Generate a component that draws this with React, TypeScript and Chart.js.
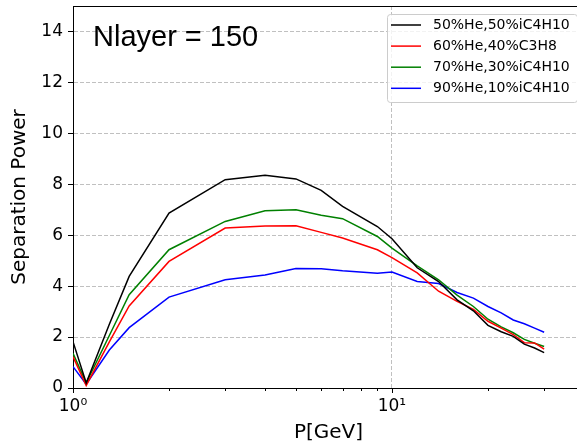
import React, { useEffect, useRef } from 'react';
import { Chart, registerables } from 'chart.js';

Chart.register(...registerables);

// ---- data ----
const pValues = [1, 1.1, 1.3, 1.5, 2, 3, 4, 5, 6, 7, 9, 10, 12, 14, 16, 18, 20, 22, 24, 26, 28, 30];
const sepHe50iC4H10 = [1.82, 0.2, 2.5, 4.38, 6.87, 8.18, 8.35, 8.21, 7.76, 7.13, 6.34, 5.86, 4.72, 4.18, 3.46, 3.03, 2.46, 2.21, 2.03, 1.72, 1.57, 1.39];
const sepHe60C3H8 = [1.23, 0.1, 1.81, 3.22, 4.97, 6.28, 6.36, 6.37, 6.11, 5.89, 5.43, 5.12, 4.52, 3.8, 3.4, 3.09, 2.62, 2.35, 2.1, 1.78, 1.77, 1.53];
const sepHe70iC4H10 = [1.36, 0.2, 2.06, 3.66, 5.43, 6.54, 6.96, 7.0, 6.78, 6.65, 5.95, 5.49, 4.8, 4.25, 3.65, 3.2, 2.7, 2.4, 2.17, 1.91, 1.76, 1.63];
const sepHe90iC4H10 = [0.84, 0.15, 1.49, 2.37, 3.57, 4.25, 4.44, 4.69, 4.68, 4.6, 4.51, 4.55, 4.18, 4.1, 3.75, 3.53, 3.2, 2.95, 2.67, 2.52, 2.35, 2.19];
const seriesLabels = ['50%He,50%iC4H10', '60%He,40%C3H8', '70%He,30%iC4H10', '90%He,10%iC4H10'];
const seriesColors = ['#000000', '#ff0000', '#008000', '#0000ff'];
const yTickValues = [0, 2, 4, 6, 8, 10, 12, 14];
const xMajorTicks = [1, 10];
const xMinorTicks = [2, 3, 4, 5, 6, 7, 8, 9, 20, 30, 40];
const xTickLabels: Record<number, string> = { 1: '10\u2070', 10: '10\u00B9' };
const annotationText = 'Nlayer = 150';
const xTitle = 'P[GeV]';
const yTitle = 'Separation Power';

const FONT = 'DejaVu Sans';

export default function App() {
  const ref = useRef<HTMLCanvasElement>(null);

  useEffect(() => {
    const canvas = ref.current;
    if (!canvas) return;
    const series = [sepHe50iC4H10, sepHe60C3H8, sepHe70iC4H10, sepHe90iC4H10];
    const datasets = series.map((vals, i) => ({
      label: seriesLabels[i],
      data: pValues.map((p, j) => ({ x: p, y: vals[j] })),
      borderColor: seriesColors[i],
      backgroundColor: seriesColors[i],
      borderWidth: 1.5,
      pointRadius: 0,
      tension: 0,
      fill: false,
    }));

    const overlay = {
      id: 'overlay',
      afterDraw(chart: any) {
        const { ctx, chartArea } = chart;
        const xs = chart.scales.x;
        ctx.save();
        // top spine
        ctx.strokeStyle = '#000';
        ctx.lineWidth = 1;
        ctx.beginPath();
        ctx.moveTo(chartArea.left, chartArea.top + 0.5);
        ctx.lineTo(chartArea.right, chartArea.top + 0.5);
        ctx.stroke();
        // x tick marks
        const all = [...xMajorTicks.map((v) => [v, 5]), ...xMinorTicks.map((v) => [v, 3])];
        all.forEach(([v, len]) => {
          const px = Math.round(xs.getPixelForValue(v)) + 0.5;
          if (px < chartArea.left - 1 || px > chartArea.right + 1) return;
          ctx.beginPath();
          ctx.moveTo(px, chartArea.bottom);
          ctx.lineTo(px, chartArea.bottom + len);
          ctx.stroke();
        });
        // annotation
        ctx.fillStyle = '#000';
        ctx.font = '29px "Liberation Sans", Arial, sans-serif';
        ctx.textAlign = 'left';
        ctx.textBaseline = 'alphabetic';
        ctx.fillText(annotationText, chartArea.left + 20, chartArea.top + 40);
        // legend
        const lx = chartArea.right - 197;
        const ly = chartArea.top + 8;
        const lw = 190;
        const lh = 88;
        ctx.beginPath();
        (ctx as any).roundRect(lx + 0.5, ly + 0.5, lw, lh, 3);
        ctx.fillStyle = 'rgba(255,255,255,0.8)';
        ctx.fill();
        ctx.strokeStyle = '#cccccc';
        ctx.lineWidth = 1;
        ctx.stroke();
        ctx.font = `14px "${FONT}"`;
        ctx.textBaseline = 'middle';
        seriesLabels.forEach((lab, i) => {
          const yy = ly + 11 + i * 21.1;
          ctx.strokeStyle = seriesColors[i];
          ctx.lineWidth = 1.5;
          ctx.beginPath();
          ctx.moveTo(lx + 4, yy);
          ctx.lineTo(lx + 34, yy);
          ctx.stroke();
          ctx.fillStyle = '#000';
          ctx.fillText(lab, lx + 46, yy);
        });
        ctx.restore();
      },
    };

    const chart = new Chart(canvas, {
      type: 'line',
      data: { datasets },
      options: {
        animation: false,
        responsive: false,
        layout: { padding: { top: 6, right: 16, left: 0, bottom: 0 } },
        plugins: { legend: { display: false }, tooltip: { enabled: false } },
        scales: {
          x: {
            type: 'logarithmic',
            min: 1,
            max: 40,
            afterBuildTicks: (s: any) => {
              s.ticks = [...xMajorTicks, ...xMinorTicks]
                .sort((a, b) => a - b)
                .map((v) => ({ value: v, major: xMajorTicks.includes(v) }));
            },
            afterFit: (s: any) => {
              s.height = 58;
              s.paddingLeft = 0;
              s.paddingRight = 0;
            },
            ticks: {
              autoSkip: false,
              maxRotation: 0,
              minRotation: 0,
              padding: 8,
              color: '#000',
              font: { family: FONT, size: 17 },
              callback: (v: any) => xTickLabels[Number(v)] ?? '',
            },
            grid: {
              color: (c: any) => (c.tick && c.tick.value === 10 ? '#b0b0b0' : 'rgba(0,0,0,0)'),
              lineWidth: 0.8,
              drawTicks: false,
            },
            border: { display: true, color: '#000', width: 1, dash: [4, 2] },
            title: {
              display: true,
              text: xTitle,
              color: '#000',
              font: { family: FONT, size: 20 },
              padding: { top: 0, bottom: 1 },
            },
          },
          y: {
            type: 'linear',
            min: 0,
            max: 15,
            afterBuildTicks: (s: any) => {
              s.ticks = yTickValues.map((v) => ({ value: v }));
            },
            afterFit: (s: any) => {
              s.width = 73;
              s.paddingTop = 0;
              s.paddingBottom = 0;
            },
            ticks: {
              padding: 5,
              color: '#000',
              font: { family: FONT, size: 17 },
            },
            grid: {
              color: (c: any) => (c.tick && c.tick.value === 0 ? 'rgba(0,0,0,0)' : '#b0b0b0'),
              lineWidth: 0.8,
              drawTicks: true,
              tickLength: 5,
              tickColor: '#000',
              tickWidth: 1,
              tickBorderDash: [],
            },
            border: { display: true, color: '#000', width: 1, dash: [4, 2] },
            title: {
              display: true,
              text: yTitle,
              color: '#000',
              font: { family: FONT, size: 20 },
              padding: { top: 8, bottom: 0 },
            },
          },
        },
      },
      plugins: [overlay],
    } as any);

    return () => chart.destroy();
  }, []);

  return (
    <div
      style={{
        position: 'absolute',
        left: 0,
        top: 0,
        width: 577,
        height: 446,
        overflow: 'hidden',
        background: '#fff',
      }}
    >
      <canvas ref={ref} width={600} height={446} style={{ display: 'block' }} />
    </div>
  );
}
